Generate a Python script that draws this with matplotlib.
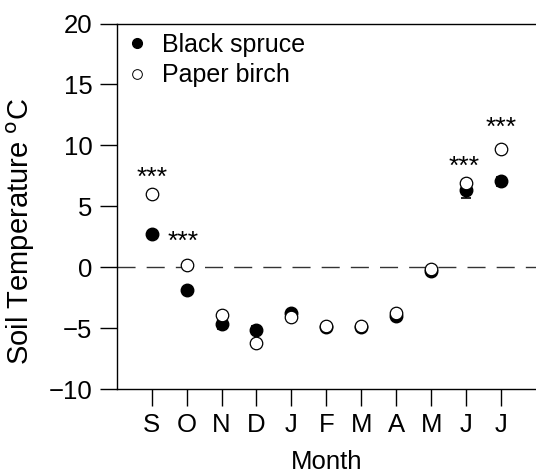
import matplotlib
matplotlib.use('Agg')
import matplotlib.pyplot as plt
import numpy as np

plt.rcParams['font.family'] = ['Liberation Sans', 'DejaVu Sans']

months = ['S', 'O', 'N', 'D', 'J', 'F', 'M', 'A', 'M', 'J', 'J']
spruce = [2.7, -1.9, -4.7, -5.15, -3.8, -4.9, -4.95, -4.0, -0.35, 6.3, 7.05]
spruce_err = [0.2, 0.2, 0.35, 0.35, 0.2, 0.15, 0.15, 0.2, 0.15, 0.65, 0.35]
birch = [6.0, 0.15, -3.95, -6.2, -4.05, -4.8, -4.8, -3.75, -0.15, 6.9, 9.7]
birch_err = [0.2, 0.2, 0.2, 0.25, 0.15, 0.15, 0.15, 0.15, 0.15, 0.3, 0.2]
# significance marks: month index and height
sig_x = [1, 2, 10, 11]
sig_y = [7.3, 2.1, 8.2, 11.4]
sig_dx = [0, -0.1, -0.05, 0]

x = np.arange(1, len(months) + 1)

fig = plt.figure(figsize=(5.36, 4.75), dpi=100)
ax = fig.add_axes([0.2177, 0.181, 0.7823, 0.7695])

ax.axhline(0, color='#333333', lw=1, linestyle=(0, (13, 8)), zorder=1)

ax.errorbar(x, spruce, yerr=spruce_err, fmt='o', color='black', mfc='black', mec='black',
            ms=9, capsize=3.5, elinewidth=1.2, capthick=1.2, zorder=3)
ax.errorbar(x, birch, yerr=birch_err, fmt='o', color='black', mfc='white', mec='black',
            ms=9, mew=0.9, capsize=3.5, elinewidth=1.0, capthick=1.0, zorder=4)

for xi, yi, dx in zip(sig_x, sig_y, sig_dx):
    ax.text(xi + dx, yi, '***', ha='center', va='center', fontsize=19)

# legend handles
ax.plot([], [], 'o', color='black', ms=7, label='Black spruce')
ax.plot([], [], 'o', mfc='white', mec='black', mew=0.7, ms=7, label='Paper birch')
handles, labels = ax.get_legend_handles_labels()
ax.legend(handles[-2:], labels[-2:], loc='upper left', frameon=False, fontsize=18,
          handletextpad=0.52, borderaxespad=0.15, labelspacing=0.25, handlelength=1.0,
          bbox_to_anchor=(-0.0143, 1.011))

ax.set_xlim(0, 12)
ax.set_ylim(-10, 20)
ax.set_xticks(x)
ax.set_xticklabels(months)
ax.set_yticks([-10, -5, 0, 5, 10, 15, 20])
ax.set_yticklabels(['\u221210', '\u22125', '0', '5', '10', '15', '20'])
ax.tick_params(axis='both', direction='out', length=12.5, width=1, labelsize=18.5, pad=5)

ax.spines['right'].set_visible(False)
for s in ['left', 'top', 'bottom']:
    ax.spines[s].set_linewidth(1)

ax.set_ylabel('Soil Temperature $^{\\rm o}$C', fontsize=21)
ax.set_xlabel('Month', fontsize=18.5)
ax.xaxis.set_label_coords(0.5, -0.167)
ax.yaxis.set_label_coords(-0.19, 0.432)

fig.savefig('out.png', dpi=100)
